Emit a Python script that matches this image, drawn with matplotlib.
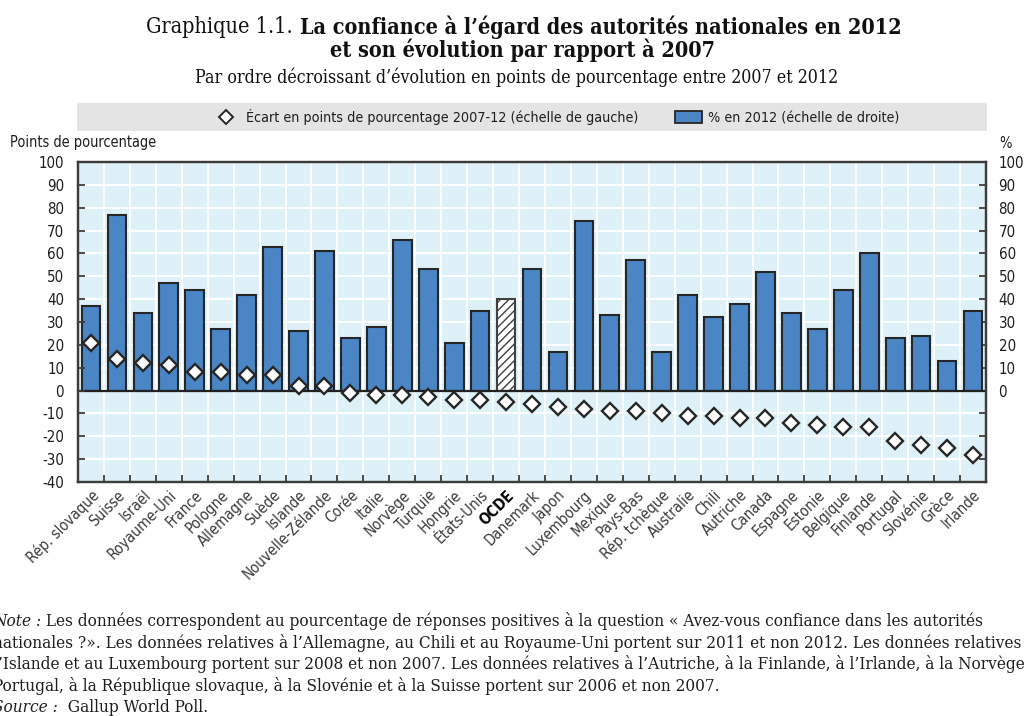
import numpy as np
import matplotlib
matplotlib.use("Agg")
import matplotlib.pyplot as plt
from matplotlib import font_manager as fm
from matplotlib.lines import Line2D
from matplotlib.patches import Patch, Rectangle
from matplotlib.transforms import IdentityTransform
from matplotlib.ticker import FuncFormatter

# ---------------- data ----------------
countries = ["Rép. slovaque", "Suisse", "Israël", "Royaume-Uni", "France", "Pologne",
             "Allemagne", "Suède", "Islande", "Nouvelle-Zélande", "Corée", "Italie",
             "Norvège", "Turquie", "Hongrie", "États-Unis", "OCDE", "Danemark", "Japon",
             "Luxembourg", "Mexique", "Pays-Bas", "Rép. tchèque", "Australie", "Chili",
             "Autriche", "Canada", "Espagne", "Estonie", "Belgique", "Finlande",
             "Portugal", "Slovénie", "Grèce", "Irlande"]
pct_2012 = [37, 77, 34, 47, 44, 27, 42, 63, 26, 61, 23, 28, 66, 53, 21, 35, 40,
            53, 17, 74, 33, 57, 17, 42, 32, 38, 52, 34, 27, 44, 60, 23, 24, 13, 35]
change_2007_12 = [21, 14, 12, 11, 8, 8, 7, 7, 2, 2, -1, -2, -2, -3, -4, -4, -5,
                  -6, -7, -8, -9, -9, -10, -11, -11, -12, -12, -14, -15, -16, -16,
                  -22, -24, -25, -28]
y_ticks = list(range(-40, 101, 10))
highlight = "OCDE"

title_prefix = "Graphique 1.1."
title_line1 = "La confiance à l’égard des autorités nationales en 2012"
title_line2 = "et son évolution par rapport à 2007"
subtitle = "Par ordre décroissant d’évolution en points de pourcentage entre 2007 et 2012"
legend_labels = ["Écart en points de pourcentage 2007-12 (échelle de gauche)",
                 "% en 2012 (échelle de droite)"]
left_axis_title = "Points de pourcentage"
right_axis_title = "%"
note_label = "Note :"
note_lines = [
    " Les données correspondent au pourcentage de réponses positives à la question « Avez-vous confiance dans les autorités",
    "nationales ?». Les données relatives à l’Allemagne, au Chili et au Royaume-Uni portent sur 2011 et non 2012. Les données relatives à",
    "l’Islande et au Luxembourg portent sur 2008 et non 2007. Les données relatives à l’Autriche, à la Finlande, à l’Irlande, à la Norvège, au",
    "Portugal, à la République slovaque, à la Slovénie et à la Suisse portent sur 2006 et non 2007.",
]
source_label = "Source :"
source_text = "  Gallup World Poll."

# ---------------- fonts ----------------
entries = fm.fontManager.ttflist
def has(name, stretch=None):
    for f in entries:
        if f.name == name and (stretch is None or str(f.stretch) == stretch):
            return True
    return False

if has("Liberation Sans Narrow"):
    SANS_FAMILY, SANS_STRETCH = "Liberation Sans Narrow", "normal"
elif has("DejaVu Sans", "condensed"):
    SANS_FAMILY, SANS_STRETCH = "DejaVu Sans", "condensed"
elif has("Roboto Condensed"):
    SANS_FAMILY, SANS_STRETCH = "Roboto Condensed", "normal"
else:
    SANS_FAMILY, SANS_STRETCH = "Liberation Sans", "normal"

if has("DejaVu Serif", "condensed"):
    TITLE = dict(family="DejaVu Serif", fontstretch="condensed")
else:
    TITLE = dict(family="Liberation Serif")
NOTE = dict(TITLE)

plt.rcParams["font.family"] = [SANS_FAMILY, "DejaVu Sans"]
plt.rcParams["font.stretch"] = SANS_STRETCH
plt.rcParams["axes.unicode_minus"] = False
plt.rcParams["hatch.linewidth"] = 1.0
plt.rcParams["hatch.color"] = "#444444"

# ---------------- figure ----------------
W, H = 1024, 716
fig = plt.figure(figsize=(W / 100, H / 100), dpi=100)
rend = fig.canvas.get_renderer()
ID = IdentityTransform()

def put(xpx, ypx, s, **kw):
    return fig.text(xpx, H - ypx, s, transform=ID, **kw)

def width_of(s, **kw):
    t = fig.text(0, 0, s, transform=ID, **kw)
    w = t.get_window_extent(rend).width
    t.remove()
    return w

def fit_size(s, target, **kw):
    return 20.0 * target / width_of(s, fontsize=20, **kw)

TXT = "#1e1e1e"
BLUE = "#4a85c5"
EDGE = "#262626"
SPINE = "#3c3c3c"
BG = "#dff1f8"

tick_size = fit_size("Rép. slovaque", 95)
legend_size = fit_size(legend_labels[0], 392)
axis_title_size = fit_size(left_axis_title, 146)

# ---------------- axes ----------------
L, R, T, B = 78, 986, 162, 482
ax = fig.add_axes([L / W, 1 - B / H, (R - L) / W, (B - T) / H])
axR = ax.twinx()
axR.patch.set_visible(True)
axR.patch.set_facecolor(BG)
ax.patch.set_visible(False)
ax.set_zorder(axR.get_zorder() + 1)

n = len(countries)
x = np.arange(n)

# bars on the right scale
bars = axR.bar(x, pct_2012, width=0.72, color=BLUE, edgecolor=EDGE, linewidth=1.5, zorder=2)
hi = countries.index(highlight)
bars[hi].set_facecolor("white")
bars[hi].set_edgecolor("#404040")
bars[hi].set_hatch("////")
axR.axhline(0, color="#222222", lw=1.6, zorder=3)

# diamonds on the left scale
ax.plot(x, change_2007_12, ls="none", marker="D", ms=7.8, mfc="white", mec="#262626",
        mew=1.7, zorder=5, clip_on=False)

for a in (ax, axR):
    a.set_ylim(-40, 100)
    a.set_xlim(-0.5, n - 0.5)
    for s in a.spines.values():
        s.set_color(SPINE)
        s.set_linewidth(1.6)

# x ticks: marks at category boundaries, labels at centres
ax.set_xticks(np.arange(-0.5, n, 1.0))
ax.set_xticks(x, labels=countries, minor=True, rotation=45, ha="right",
              rotation_mode="anchor")
ax.tick_params(axis="x", which="major", direction="in", length=5, width=1.3,
               color=SPINE, labelbottom=False)
ax.tick_params(axis="x", which="minor", length=0, pad=4, labelsize=tick_size,
               labelcolor="#3a3a3a")
for lbl in ax.get_xticklabels(minor=True):
    if lbl.get_text() == highlight:
        lbl.set_fontweight("bold")
        lbl.set_color("black")

# grid on the back axes
axR.xaxis.set_visible(True)
axR.tick_params(axis="x", which="both", length=0, labelbottom=False, labeltop=False)
axR.set_axisbelow(True)
axR.grid(True, which="major", color="white", lw=1.3)

# y ticks
ax.set_yticks(y_ticks)
ax.tick_params(axis="y", direction="in", length=5, width=1.3, color=SPINE, pad=10,
               labelsize=tick_size, labelcolor=TXT)
axR.set_yticks(y_ticks)
axR.yaxis.set_major_formatter(FuncFormatter(lambda v, p: f"{v:.0f}" if v >= 0 else ""))
axR.tick_params(axis="y", direction="in", length=5, width=1.3, color=SPINE, pad=9,
                labelsize=tick_size, labelcolor=TXT)

put(10, 143, left_axis_title, fontsize=axis_title_size, color=TXT, va="center", ha="left")
put(999, 143, right_axis_title, fontsize=axis_title_size, color=TXT, va="center", ha="left")

# ---------------- legend band ----------------
fig.patches.append(Rectangle((77, H - 131), 910, 28, transform=ID, fc="#e4e4e4",
                             ec="none", zorder=0))
handles = [Line2D([], [], ls="none", marker="D", ms=7, mfc="white", mec="#262626", mew=1.4),
           Patch(fc=BLUE, ec=EDGE, lw=1.3)]
fig.legend(handles, legend_labels, loc="center", bbox_to_anchor=(556 / W, 1 - 117 / H),
           ncol=2, frameon=False, fontsize=legend_size, handlelength=1.9,
           handleheight=0.9, handletextpad=0.4, columnspacing=2.6, labelcolor=TXT)

# ---------------- titles ----------------
ts = fit_size(title_line1, 603, weight="bold", **TITLE)
put(300, 27, title_line1, fontsize=ts, weight="bold", color="#111111", va="center", ha="left", **TITLE)
put(293, 27, title_prefix, fontsize=ts, color="#111111", va="center", ha="right", **TITLE)
put(522, 50, title_line2, fontsize=ts, weight="bold", color="#111111", va="center", ha="center", **TITLE)
ss = fit_size(subtitle, 641, **TITLE)
put(517, 77, subtitle, fontsize=ss, color="#111111", va="center", ha="center", **TITLE)

# ---------------- notes ----------------
ns = fit_size(note_lines[1][:-2], 1030, **NOTE)
x0 = -7
ys = [621, 643, 664, 686, 707]
t = put(x0, ys[0], note_label, fontsize=ns, style="italic", color=TXT, va="center", **NOTE)
wl = t.get_window_extent(rend).width
put(x0 + wl, ys[0], note_lines[0], fontsize=ns, color=TXT, va="center", **NOTE)
for yy, line in zip(ys[1:4], note_lines[1:]):
    put(x0, yy, line, fontsize=ns, color=TXT, va="center", **NOTE)
t = put(x0, ys[4], source_label, fontsize=ns, style="italic", color=TXT, va="center", **NOTE)
wl = t.get_window_extent(rend).width
put(x0 + wl, ys[4], source_text, fontsize=ns, color=TXT, va="center", **NOTE)

fig.savefig("out.png", dpi=100)
